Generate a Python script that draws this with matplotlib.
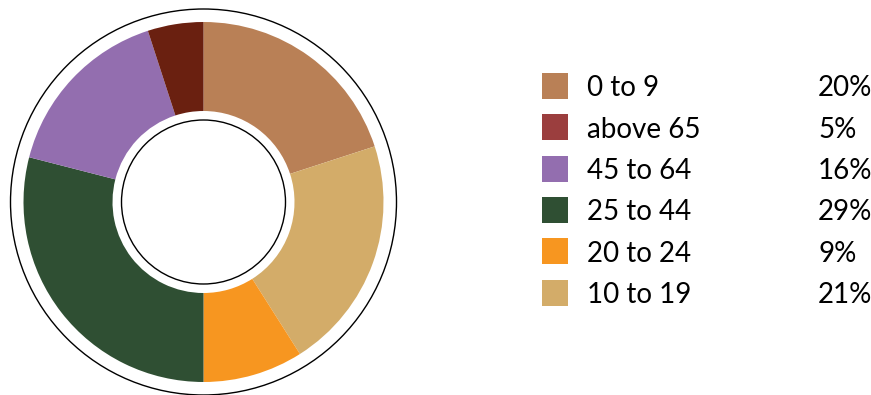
import matplotlib
matplotlib.use('Agg')
import matplotlib.pyplot as plt
from matplotlib.patches import Circle, Rectangle

# pie slices, clockwise from 12 o'clock
groups = ['0 to 9', '10 to 19', '20 to 24', '25 to 44', '45 to 64', 'above 65']
shares = [20, 21, 9, 29, 16, 5]
pie_colors = ['#B98056', '#D3AC69', '#F79620', '#2F4F33', '#936EAF', '#6A2010']

# legend rows (top to bottom)
legend_groups = ['0 to 9', 'above 65', '45 to 64', '25 to 44', '20 to 24', '10 to 19']
legend_colors = ['#B98056', '#9B3E3E', '#936EAF', '#2F4F33', '#F79620', '#D3AC69']

W, H = 871, 395
fig = plt.figure(figsize=(W / 100, H / 100), dpi=100)
ax = fig.add_axes([0, 0, 1, 1])

cx, cy = 203.5, H - 202
R = 180

ax.pie(shares, colors=pie_colors, startangle=90, counterclock=False,
       radius=R, center=(cx, cy),
       wedgeprops=dict(width=R - 91, linewidth=0))

# outer ring and inner circle outlines
ax.add_patch(Circle((cx, cy), 193, fill=False, edgecolor='black', linewidth=1.0))
ax.add_patch(Circle((cx, cy), 82, fill=False, edgecolor='black', linewidth=1.0))

share_of = dict(zip(groups, shares))
font = ['Lato', 'DejaVu Sans']
row_y0, row_step = 86, 41.3
for i, (g, c) in enumerate(zip(legend_groups, legend_colors)):
    y = H - (row_y0 + i * row_step)
    ax.add_patch(Rectangle((542, y - 13), 26, 26, facecolor=c, edgecolor='none'))
    ax.text(587, y, g, fontsize=20, family=font, va='center_baseline', ha='left')
    ax.text(818, y, f'{share_of[g]}%', fontsize=20, family=font, va='center_baseline', ha='left')

ax.set_xlim(0, W)
ax.set_ylim(0, H)
ax.set_aspect('equal')
ax.axis('off')

fig.savefig('out.png', dpi=100)
